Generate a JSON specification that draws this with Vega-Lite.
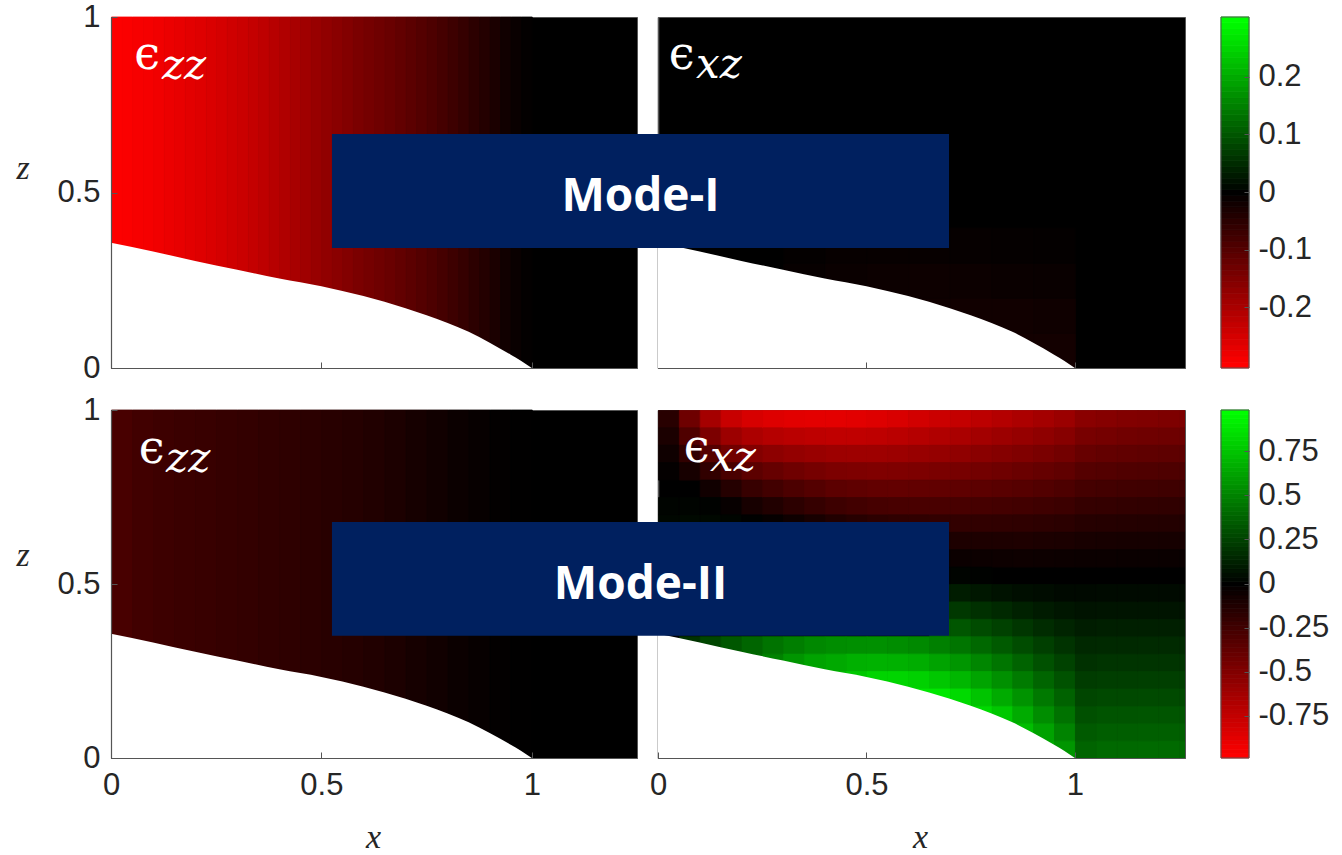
{
"$schema":"https://vega.github.io/schema/vega-lite/v6.json",
"padding":{"left":15,"top":0,"right":0,"bottom":0},
"background":"#ffffff",
"config":{
 "view":{"fill":"#000000","stroke":"#555555"},
 "axis":{"labelFont":"Liberation Sans","labelFontSize":31,"labelColor":"#262626","tickColor":"#555555","domain":true,"domainColor":"#555555","domainWidth":1.2,"grid":false,"titleFont":"Liberation Serif","titleFontStyle":"italic","titleFontWeight":"normal","titleFontSize":34,"titleColor":"#262626","labelFlush":false,"labelOverlap":false,"format":"~g"},
 "rect":{"binSpacing":0}
},
"datasets":{
 "bnd":[{"x":0,"z":0.357},{"x":0.1,"z":0.332},{"x":0.2,"z":0.305},{"x":0.3,"z":0.28},{"x":0.4,"z":0.255},{"x":0.5,"z":0.233},{"x":0.6,"z":0.205},{"x":0.7,"z":0.17},{"x":0.75,"z":0.15},{"x":0.8,"z":0.128},{"x":0.85,"z":0.103},{"x":0.9,"z":0.072},{"x":0.95,"z":0.038},{"x":0.975,"z":0.02},{"x":1,"z":0}],
 "tl":[{"x":0,"v":-0.298},{"x":0.025,"v":-0.295},{"x":0.05,"v":-0.291},{"x":0.075,"v":-0.288},{"x":0.1,"v":-0.283},{"x":0.125,"v":-0.278},{"x":0.15,"v":-0.273},{"x":0.175,"v":-0.267},{"x":0.2,"v":-0.262},{"x":0.225,"v":-0.256},{"x":0.25,"v":-0.25},{"x":0.275,"v":-0.244},{"x":0.3,"v":-0.238},{"x":0.325,"v":-0.23},{"x":0.35,"v":-0.223},{"x":0.375,"v":-0.215},{"x":0.4,"v":-0.207},{"x":0.425,"v":-0.198},{"x":0.45,"v":-0.188},{"x":0.475,"v":-0.179},{"x":0.5,"v":-0.17},{"x":0.525,"v":-0.162},{"x":0.55,"v":-0.154},{"x":0.575,"v":-0.145},{"x":0.6,"v":-0.138},{"x":0.625,"v":-0.13},{"x":0.65,"v":-0.123},{"x":0.675,"v":-0.115},{"x":0.7,"v":-0.107},{"x":0.725,"v":-0.099},{"x":0.75,"v":-0.09},{"x":0.775,"v":-0.081},{"x":0.8,"v":-0.072},{"x":0.825,"v":-0.062},{"x":0.85,"v":-0.052},{"x":0.875,"v":-0.042},{"x":0.9,"v":-0.032},{"x":0.925,"v":-0.02},{"x":0.95,"v":-0.011},{"x":0.975,"v":-0.004}],
 "bl":[{"x":0,"v":-0.277},{"x":0.05,"v":-0.25},{"x":0.1,"v":-0.234},{"x":0.15,"v":-0.223},{"x":0.2,"v":-0.215},{"x":0.25,"v":-0.204},{"x":0.3,"v":-0.196},{"x":0.35,"v":-0.184},{"x":0.4,"v":-0.177},{"x":0.45,"v":-0.165},{"x":0.5,"v":-0.154},{"x":0.55,"v":-0.142},{"x":0.6,"v":-0.127},{"x":0.65,"v":-0.108},{"x":0.7,"v":-0.085},{"x":0.75,"v":-0.065},{"x":0.8,"v":-0.042},{"x":0.85,"v":-0.027},{"x":0.9,"v":-0.012},{"x":0.95,"v":-0.004}],
 "tr":[{"x":0.3,"z":0.2,"v":-0.008},{"x":0.3,"z":0.3,"v":-0.005},{"x":0.4,"z":0.2,"v":-0.012},{"x":0.4,"z":0.3,"v":-0.008},{"x":0.5,"z":0.1,"v":-0.015},{"x":0.5,"z":0.2,"v":-0.014},{"x":0.5,"z":0.3,"v":-0.008},{"x":0.6,"z":0.1,"v":-0.018},{"x":0.6,"z":0.2,"v":-0.015},{"x":0.6,"z":0.3,"v":-0.008},{"x":0.7,"z":0,"v":-0.02},{"x":0.7,"z":0.1,"v":-0.02},{"x":0.7,"z":0.2,"v":-0.014},{"x":0.7,"z":0.3,"v":-0.007},{"x":0.8,"z":0,"v":-0.022},{"x":0.8,"z":0.1,"v":-0.02},{"x":0.8,"z":0.2,"v":-0.012},{"x":0.8,"z":0.3,"v":-0.006},{"x":0.9,"z":0,"v":-0.022},{"x":0.9,"z":0.1,"v":-0.018},{"x":0.9,"z":0.2,"v":-0.01},{"x":0.9,"z":0.3,"v":-0.005}],
 "br":[
{"x":0,"z":0.95,"v":-0.154},{"x":0,"z":0.9,"v":-0.103},{"x":0,"z":0.85,"v":-0.056},{"x":0,"z":0.8,"v":-0.015},{"x":0,"z":0.7,"v":0.015},{"x":0,"z":0.65,"v":0.026},
{"x":0.05,"z":0.95,"v":-0.423},{"x":0.05,"z":0.9,"v":-0.302},{"x":0.05,"z":0.85,"v":-0.19},{"x":0.05,"z":0.8,"v":-0.087},{"x":0.05,"z":0.7,"v":0.014},{"x":0.05,"z":0.65,"v":0.034},{"x":0.05,"z":0.3,"v":0.192},
{"x":0.1,"z":0.95,"v":-0.635},{"x":0.1,"z":0.9,"v":-0.476},{"x":0.1,"z":0.85,"v":-0.326},{"x":0.1,"z":0.8,"v":-0.188},{"x":0.1,"z":0.75,"v":-0.065},{"x":0.1,"z":0.7,"v":0.006},{"x":0.1,"z":0.65,"v":0.032},{"x":0.1,"z":0.3,"v":0.269},
{"x":0.15,"z":0.95,"v":-0.769},{"x":0.15,"z":0.9,"v":-0.598},{"x":0.15,"z":0.85,"v":-0.436},{"x":0.15,"z":0.8,"v":-0.282},{"x":0.15,"z":0.75,"v":-0.142},{"x":0.15,"z":0.7,"v":-0.025},{"x":0.15,"z":0.65,"v":0.021},{"x":0.15,"z":0.3,"v":0.333},
{"x":0.2,"z":0.95,"v":-0.827},{"x":0.2,"z":0.9,"v":-0.662},{"x":0.2,"z":0.85,"v":-0.504},{"x":0.2,"z":0.8,"v":-0.353},{"x":0.2,"z":0.75,"v":-0.212},{"x":0.2,"z":0.7,"v":-0.087},{"x":0.2,"z":0.65,"v":0.003},{"x":0.2,"z":0.3,"v":0.389},{"x":0.2,"z":0.25,"v":0.423},
{"x":0.25,"z":0.95,"v":-0.854},{"x":0.25,"z":0.9,"v":-0.694},{"x":0.25,"z":0.85,"v":-0.541},{"x":0.25,"z":0.8,"v":-0.393},{"x":0.25,"z":0.75,"v":-0.254},{"x":0.25,"z":0.7,"v":-0.128},{"x":0.25,"z":0.65,"v":-0.022},{"x":0.25,"z":0.3,"v":0.441},{"x":0.25,"z":0.25,"v":0.5},
{"x":0.3,"z":0.95,"v":-0.869},{"x":0.3,"z":0.9,"v":-0.716},{"x":0.3,"z":0.85,"v":-0.567},{"x":0.3,"z":0.8,"v":-0.426},{"x":0.3,"z":0.75,"v":-0.292},{"x":0.3,"z":0.7,"v":-0.168},{"x":0.3,"z":0.65,"v":-0.057},{"x":0.3,"z":0.3,"v":0.484},{"x":0.3,"z":0.25,"v":0.574},
{"x":0.35,"z":0.95,"v":-0.877},{"x":0.35,"z":0.9,"v":-0.731},{"x":0.35,"z":0.85,"v":-0.589},{"x":0.35,"z":0.8,"v":-0.453},{"x":0.35,"z":0.75,"v":-0.324},{"x":0.35,"z":0.7,"v":-0.203},{"x":0.35,"z":0.65,"v":-0.094},{"x":0.35,"z":0.3,"v":0.522},{"x":0.35,"z":0.25,"v":0.625},
{"x":0.4,"z":0.95,"v":-0.877},{"x":0.4,"z":0.9,"v":-0.739},{"x":0.4,"z":0.85,"v":-0.604},{"x":0.4,"z":0.8,"v":-0.475},{"x":0.4,"z":0.75,"v":-0.352},{"x":0.4,"z":0.7,"v":-0.234},{"x":0.4,"z":0.65,"v":-0.127},{"x":0.4,"z":0.3,"v":0.54},{"x":0.4,"z":0.25,"v":0.651},{"x":0.4,"z":0.2,"v":0.712},
{"x":0.45,"z":0.95,"v":-0.869},{"x":0.45,"z":0.9,"v":-0.738},{"x":0.45,"z":0.85,"v":-0.609},{"x":0.45,"z":0.8,"v":-0.485},{"x":0.45,"z":0.75,"v":-0.367},{"x":0.45,"z":0.7,"v":-0.254},{"x":0.45,"z":0.65,"v":-0.149},{"x":0.45,"z":0.3,"v":0.551},{"x":0.45,"z":0.25,"v":0.675},{"x":0.45,"z":0.2,"v":0.769},
{"x":0.5,"z":0.95,"v":-0.854},{"x":0.5,"z":0.9,"v":-0.729},{"x":0.5,"z":0.85,"v":-0.607},{"x":0.5,"z":0.8,"v":-0.49},{"x":0.5,"z":0.75,"v":-0.377},{"x":0.5,"z":0.7,"v":-0.27},{"x":0.5,"z":0.65,"v":-0.169},{"x":0.5,"z":0.3,"v":0.553},{"x":0.5,"z":0.25,"v":0.685},{"x":0.5,"z":0.2,"v":0.815},
{"x":0.55,"z":0.95,"v":-0.835},{"x":0.55,"z":0.9,"v":-0.716},{"x":0.55,"z":0.85,"v":-0.6},{"x":0.55,"z":0.8,"v":-0.488},{"x":0.55,"z":0.75,"v":-0.379},{"x":0.55,"z":0.7,"v":-0.277},{"x":0.55,"z":0.65,"v":-0.179},{"x":0.55,"z":0.3,"v":0.543},{"x":0.55,"z":0.25,"v":0.679},{"x":0.55,"z":0.2,"v":0.818},
{"x":0.6,"z":0.95,"v":-0.808},{"x":0.6,"z":0.9,"v":-0.695},{"x":0.6,"z":0.85,"v":-0.586},{"x":0.6,"z":0.8,"v":-0.479},{"x":0.6,"z":0.75,"v":-0.377},{"x":0.6,"z":0.7,"v":-0.279},{"x":0.6,"z":0.65,"v":-0.186},{"x":0.6,"z":0.3,"v":0.527},{"x":0.6,"z":0.25,"v":0.664},{"x":0.6,"z":0.2,"v":0.805},{"x":0.6,"z":0.15,"v":0.885},
{"x":0.65,"z":0.95,"v":-0.781},{"x":0.65,"z":0.9,"v":-0.675},{"x":0.65,"z":0.85,"v":-0.571},{"x":0.65,"z":0.8,"v":-0.47},{"x":0.65,"z":0.75,"v":-0.373},{"x":0.65,"z":0.7,"v":-0.28},{"x":0.65,"z":0.65,"v":-0.191},{"x":0.65,"z":0.6,"v":-0.11},{"x":0.65,"z":0.55,"v":-0.037},{"x":0.65,"z":0.5,"v":0.023},{"x":0.65,"z":0.45,"v":0.124},{"x":0.65,"z":0.4,"v":0.24},{"x":0.65,"z":0.35,"v":0.362},{"x":0.65,"z":0.3,"v":0.492},{"x":0.65,"z":0.25,"v":0.625},{"x":0.65,"z":0.2,"v":0.763},{"x":0.65,"z":0.15,"v":0.892},
{"x":0.7,"z":0.95,"v":-0.754},{"x":0.7,"z":0.9,"v":-0.652},{"x":0.7,"z":0.85,"v":-0.553},{"x":0.7,"z":0.8,"v":-0.457},{"x":0.7,"z":0.75,"v":-0.364},{"x":0.7,"z":0.7,"v":-0.275},{"x":0.7,"z":0.65,"v":-0.191},{"x":0.7,"z":0.6,"v":-0.112},{"x":0.7,"z":0.55,"v":-0.042},{"x":0.7,"z":0.5,"v":0.014},{"x":0.7,"z":0.45,"v":0.107},{"x":0.7,"z":0.4,"v":0.214},{"x":0.7,"z":0.35,"v":0.33},{"x":0.7,"z":0.3,"v":0.45},{"x":0.7,"z":0.25,"v":0.575},{"x":0.7,"z":0.2,"v":0.705},{"x":0.7,"z":0.15,"v":0.837},{"x":0.7,"z":0.1,"v":0.877},
{"x":0.75,"z":0.95,"v":-0.723},{"x":0.75,"z":0.9,"v":-0.627},{"x":0.75,"z":0.85,"v":-0.532},{"x":0.75,"z":0.8,"v":-0.442},{"x":0.75,"z":0.75,"v":-0.354},{"x":0.75,"z":0.7,"v":-0.269},{"x":0.75,"z":0.65,"v":-0.189},{"x":0.75,"z":0.6,"v":-0.113},{"x":0.75,"z":0.55,"v":-0.046},{"x":0.75,"z":0.5,"v":0.006},{"x":0.75,"z":0.45,"v":0.088},{"x":0.75,"z":0.4,"v":0.185},{"x":0.75,"z":0.35,"v":0.289},{"x":0.75,"z":0.3,"v":0.4},{"x":0.75,"z":0.25,"v":0.515},{"x":0.75,"z":0.2,"v":0.632},{"x":0.75,"z":0.15,"v":0.752},{"x":0.75,"z":0.1,"v":0.838},
{"x":0.8,"z":0.95,"v":-0.692},{"x":0.8,"z":0.9,"v":-0.601},{"x":0.8,"z":0.85,"v":-0.512},{"x":0.8,"z":0.8,"v":-0.426},{"x":0.8,"z":0.75,"v":-0.342},{"x":0.8,"z":0.7,"v":-0.261},{"x":0.8,"z":0.65,"v":-0.185},{"x":0.8,"z":0.6,"v":-0.113},{"x":0.8,"z":0.55,"v":-0.049},{"x":0.8,"z":0.45,"v":0.07},{"x":0.8,"z":0.4,"v":0.156},{"x":0.8,"z":0.35,"v":0.249},{"x":0.8,"z":0.3,"v":0.346},{"x":0.8,"z":0.25,"v":0.448},{"x":0.8,"z":0.2,"v":0.552},{"x":0.8,"z":0.15,"v":0.659},{"x":0.8,"z":0.1,"v":0.768},
{"x":0.85,"z":0.95,"v":-0.662},{"x":0.85,"z":0.9,"v":-0.576},{"x":0.85,"z":0.85,"v":-0.491},{"x":0.85,"z":0.8,"v":-0.409},{"x":0.85,"z":0.75,"v":-0.33},{"x":0.85,"z":0.7,"v":-0.254},{"x":0.85,"z":0.65,"v":-0.182},{"x":0.85,"z":0.6,"v":-0.114},{"x":0.85,"z":0.55,"v":-0.052},{"x":0.85,"z":0.45,"v":0.054},{"x":0.85,"z":0.4,"v":0.128},{"x":0.85,"z":0.35,"v":0.208},{"x":0.85,"z":0.3,"v":0.292},{"x":0.85,"z":0.25,"v":0.381},{"x":0.85,"z":0.2,"v":0.471},{"x":0.85,"z":0.15,"v":0.564},{"x":0.85,"z":0.1,"v":0.659},{"x":0.85,"z":0.05,"v":0.731},
{"x":0.9,"z":0.95,"v":-0.631},{"x":0.9,"z":0.9,"v":-0.549},{"x":0.9,"z":0.85,"v":-0.468},{"x":0.9,"z":0.8,"v":-0.39},{"x":0.9,"z":0.75,"v":-0.314},{"x":0.9,"z":0.7,"v":-0.242},{"x":0.9,"z":0.65,"v":-0.174},{"x":0.9,"z":0.6,"v":-0.109},{"x":0.9,"z":0.55,"v":-0.05},{"x":0.9,"z":0.45,"v":0.045},{"x":0.9,"z":0.4,"v":0.105},{"x":0.9,"z":0.35,"v":0.171},{"x":0.9,"z":0.3,"v":0.241},{"x":0.9,"z":0.25,"v":0.313},{"x":0.9,"z":0.2,"v":0.387},{"x":0.9,"z":0.15,"v":0.464},{"x":0.9,"z":0.1,"v":0.542},{"x":0.9,"z":0.05,"v":0.622},{"x":0.9,"z":0,"v":0.654},
{"x":0.95,"z":0.95,"v":-0.596},{"x":0.95,"z":0.9,"v":-0.519},{"x":0.95,"z":0.85,"v":-0.442},{"x":0.95,"z":0.8,"v":-0.368},{"x":0.95,"z":0.75,"v":-0.297},{"x":0.95,"z":0.7,"v":-0.229},{"x":0.95,"z":0.65,"v":-0.164},{"x":0.95,"z":0.6,"v":-0.103},{"x":0.95,"z":0.55,"v":-0.047},{"x":0.95,"z":0.45,"v":0.036},{"x":0.95,"z":0.4,"v":0.085},{"x":0.95,"z":0.35,"v":0.139},{"x":0.95,"z":0.3,"v":0.196},{"x":0.95,"z":0.25,"v":0.254},{"x":0.95,"z":0.2,"v":0.314},{"x":0.95,"z":0.15,"v":0.377},{"x":0.95,"z":0.1,"v":0.44},{"x":0.95,"z":0.05,"v":0.504},{"x":0.95,"z":0,"v":0.577},
{"x":1,"z":0.95,"v":-0.531},{"x":1,"z":0.9,"v":-0.462},{"x":1,"z":0.85,"v":-0.394},{"x":1,"z":0.8,"v":-0.328},{"x":1,"z":0.75,"v":-0.264},{"x":1,"z":0.7,"v":-0.204},{"x":1,"z":0.65,"v":-0.146},{"x":1,"z":0.6,"v":-0.091},{"x":1,"z":0.55,"v":-0.042},{"x":1,"z":0.45,"v":0.035},{"x":1,"z":0.4,"v":0.074},{"x":1,"z":0.35,"v":0.113},{"x":1,"z":0.3,"v":0.152},{"x":1,"z":0.25,"v":0.19},{"x":1,"z":0.2,"v":0.229},{"x":1,"z":0.15,"v":0.268},{"x":1,"z":0.1,"v":0.307},{"x":1,"z":0.05,"v":0.346},{"x":1,"z":0,"v":0.385},
{"x":1.05,"z":0.95,"v":-0.515},{"x":1.05,"z":0.9,"v":-0.448},{"x":1.05,"z":0.85,"v":-0.382},{"x":1.05,"z":0.8,"v":-0.318},{"x":1.05,"z":0.75,"v":-0.256},{"x":1.05,"z":0.7,"v":-0.198},{"x":1.05,"z":0.65,"v":-0.142},{"x":1.05,"z":0.6,"v":-0.089},{"x":1.05,"z":0.55,"v":-0.041},{"x":1.05,"z":0.45,"v":0.037},{"x":1.05,"z":0.4,"v":0.077},{"x":1.05,"z":0.35,"v":0.118},{"x":1.05,"z":0.3,"v":0.159},{"x":1.05,"z":0.25,"v":0.199},{"x":1.05,"z":0.2,"v":0.24},{"x":1.05,"z":0.15,"v":0.28},{"x":1.05,"z":0.1,"v":0.321},{"x":1.05,"z":0.05,"v":0.362},{"x":1.05,"z":0,"v":0.403},
{"x":1.1,"z":0.95,"v":-0.5},{"x":1.1,"z":0.9,"v":-0.435},{"x":1.1,"z":0.85,"v":-0.371},{"x":1.1,"z":0.8,"v":-0.309},{"x":1.1,"z":0.75,"v":-0.249},{"x":1.1,"z":0.7,"v":-0.192},{"x":1.1,"z":0.65,"v":-0.138},{"x":1.1,"z":0.6,"v":-0.086},{"x":1.1,"z":0.55,"v":-0.04},{"x":1.1,"z":0.45,"v":0.037},{"x":1.1,"z":0.4,"v":0.077},{"x":1.1,"z":0.35,"v":0.118},{"x":1.1,"z":0.3,"v":0.159},{"x":1.1,"z":0.25,"v":0.199},{"x":1.1,"z":0.2,"v":0.24},{"x":1.1,"z":0.15,"v":0.28},{"x":1.1,"z":0.1,"v":0.321},{"x":1.1,"z":0.05,"v":0.362},{"x":1.1,"z":0,"v":0.403},
{"x":1.15,"z":0.95,"v":-0.492},{"x":1.15,"z":0.9,"v":-0.428},{"x":1.15,"z":0.85,"v":-0.365},{"x":1.15,"z":0.8,"v":-0.304},{"x":1.15,"z":0.75,"v":-0.245},{"x":1.15,"z":0.7,"v":-0.189},{"x":1.15,"z":0.65,"v":-0.135},{"x":1.15,"z":0.6,"v":-0.085},{"x":1.15,"z":0.55,"v":-0.039},{"x":1.15,"z":0.45,"v":0.037},{"x":1.15,"z":0.4,"v":0.078},{"x":1.15,"z":0.35,"v":0.119},{"x":1.15,"z":0.3,"v":0.16},{"x":1.15,"z":0.25,"v":0.201},{"x":1.15,"z":0.2,"v":0.242},{"x":1.15,"z":0.15,"v":0.283},{"x":1.15,"z":0.1,"v":0.325},{"x":1.15,"z":0.05,"v":0.366},{"x":1.15,"z":0,"v":0.407},
{"x":1.2,"z":0.95,"v":-0.485},{"x":1.2,"z":0.9,"v":-0.422},{"x":1.2,"z":0.85,"v":-0.36},{"x":1.2,"z":0.8,"v":-0.3},{"x":1.2,"z":0.75,"v":-0.242},{"x":1.2,"z":0.7,"v":-0.186},{"x":1.2,"z":0.65,"v":-0.133},{"x":1.2,"z":0.6,"v":-0.083},{"x":1.2,"z":0.55,"v":-0.038},{"x":1.2,"z":0.45,"v":0.037},{"x":1.2,"z":0.4,"v":0.078},{"x":1.2,"z":0.35,"v":0.119},{"x":1.2,"z":0.3,"v":0.16},{"x":1.2,"z":0.25,"v":0.201},{"x":1.2,"z":0.2,"v":0.242},{"x":1.2,"z":0.15,"v":0.283},{"x":1.2,"z":0.1,"v":0.325},{"x":1.2,"z":0.05,"v":0.366},{"x":1.2,"z":0,"v":0.407},
{"x":1.25,"z":0.95,"v":-0.485},{"x":1.25,"z":0.9,"v":-0.422},{"x":1.25,"z":0.85,"v":-0.36},{"x":1.25,"z":0.8,"v":-0.3},{"x":1.25,"z":0.75,"v":-0.242},{"x":1.25,"z":0.7,"v":-0.186},{"x":1.25,"z":0.65,"v":-0.133},{"x":1.25,"z":0.6,"v":-0.083},{"x":1.25,"z":0.55,"v":-0.038},{"x":1.25,"z":0.45,"v":0.037},{"x":1.25,"z":0.4,"v":0.078},{"x":1.25,"z":0.35,"v":0.119},{"x":1.25,"z":0.3,"v":0.16},{"x":1.25,"z":0.25,"v":0.201},{"x":1.25,"z":0.2,"v":0.242},{"x":1.25,"z":0.15,"v":0.283},{"x":1.25,"z":0.1,"v":0.325},{"x":1.25,"z":0.05,"v":0.366},{"x":1.25,"z":0,"v":0.407}
 ],
 "cb1":[-0.3,-0.29,-0.28,-0.27,-0.26,-0.25,-0.24,-0.23,-0.22,-0.21,-0.2,-0.19,-0.18,-0.17,-0.16,-0.15,-0.14,-0.13,-0.12,-0.11,-0.1,-0.09,-0.08,-0.07,-0.06,-0.05,-0.04,-0.03,-0.02,-0.01,0,0.01,0.02,0.03,0.04,0.05,0.06,0.07,0.08,0.09,0.1,0.11,0.12,0.13,0.14,0.15,0.16,0.17,0.18,0.19,0.2,0.21,0.22,0.23,0.24,0.25,0.26,0.27,0.28,0.29,0.3],
 "cb2":[-0.975,-0.95,-0.925,-0.9,-0.875,-0.85,-0.825,-0.8,-0.775,-0.75,-0.725,-0.7,-0.675,-0.65,-0.625,-0.6,-0.575,-0.55,-0.525,-0.5,-0.475,-0.45,-0.425,-0.4,-0.375,-0.35,-0.325,-0.3,-0.275,-0.25,-0.225,-0.2,-0.175,-0.15,-0.125,-0.1,-0.075,-0.05,-0.025,0,0.025,0.05,0.075,0.1,0.125,0.15,0.175,0.2,0.225,0.25,0.275,0.3,0.325,0.35,0.375,0.4,0.425,0.45,0.475,0.5,0.525,0.55,0.575,0.6,0.625,0.65,0.675,0.7,0.725,0.75,0.775,0.8,0.825,0.85,0.875,0.9,0.925,0.95,0.975]
},
"columns":3,
"spacing":{"row":42,"column":21},
"bounds":"flush",
"resolve":{"scale":{"color":"independent","stroke":"independent","x":"independent","y":"independent"}},
"concat":[
 {"width":526,"height":351,"layer":[
  {"data":{"name":"tl"},"mark":{"type":"rect","strokeWidth":0.8,"opacity":1},
   "encoding":{
    "x":{"field":"x","type":"quantitative","bin":{"binned":true,"step":0.025},"scale":{"domain":[0,1.25],"nice":false,"zero":false},"axis":{"values":[0.5,1],"labels":false,"tickSize":-6,"title":null,"domain":true,"zindex":2}},
    "y":{"datum":0,"type":"quantitative","scale":{"domain":[0,1],"nice":false,"zero":false},"axis":{"values":[0,0.5,1],"tickSize":-6,"labelPadding":17,"title":"z","titleX":-95,"titleY":161,"titleAngle":0,"titleAlign":"left","titleBaseline":"alphabetic","domain":true,"zindex":2}},
    "y2":{"datum":1},
    "color":{"field":"v","type":"quantitative","scale":{"type":"linear","domain":[-0.3,0,0.3],"range":["#ff0000","#000000","#00ff00"],"interpolate":"rgb","clamp":true},"legend":null},
    "stroke":{"field":"v","type":"quantitative","scale":{"type":"linear","domain":[-0.3,0,0.3],"range":["#ff0000","#000000","#00ff00"],"interpolate":"rgb","clamp":true},"legend":null}
   }},
  {"data":{"name":"bnd"},"mark":{"type":"area","color":"#ffffff","opacity":1,"interpolate":"monotone","clip":true},"encoding":{"x":{"field":"x","type":"quantitative"},"y":{"field":"z","type":"quantitative"},"y2":{"datum":-0.012}}},
  {"data":{"values":[{}]},"mark":{"type":"text","text":"ϵ","font":"DejaVu Serif","fontSize":46,"color":"#ffffff","align":"left","baseline":"alphabetic"},"encoding":{"x":{"datum":0.055,"type":"quantitative"},"y":{"datum":0.852,"type":"quantitative"}}},
  {"data":{"values":[{}]},"mark":{"type":"text","text":"zz","font":"DejaVu Serif","fontStyle":"italic","fontSize":42,"color":"#ffffff","align":"left","baseline":"alphabetic"},"encoding":{"x":{"datum":0.121,"type":"quantitative"},"y":{"datum":0.823,"type":"quantitative"}}}
 ]},
 {"width":527,"height":351,"layer":[
  {"data":{"name":"tr"},"mark":{"type":"rect","strokeWidth":0.8,"opacity":1,"clip":true},
   "encoding":{
    "x":{"field":"x","type":"quantitative","bin":{"binned":true,"step":0.1},"scale":{"domain":[0,1.264],"nice":false,"zero":false},"axis":{"values":[0.5,1],"labels":false,"tickSize":-6,"title":null,"domain":true,"zindex":2}},
    "y":{"field":"z","type":"quantitative","bin":{"binned":true,"step":0.1},"scale":{"domain":[0,1],"nice":false,"zero":false},"axis":{"labels":false,"ticks":false,"title":null,"domain":true,"domainWidth":1.6,"zindex":0}},
    "color":{"field":"v","type":"quantitative","scale":{"type":"linear","domain":[-0.3,0,0.3],"range":["#ff0000","#000000","#00ff00"],"interpolate":"rgb","clamp":true},"legend":null},
    "stroke":{"field":"v","type":"quantitative","scale":{"type":"linear","domain":[-0.3,0,0.3],"range":["#ff0000","#000000","#00ff00"],"interpolate":"rgb","clamp":true},"legend":null}
   }},
  {"data":{"name":"bnd"},"mark":{"type":"area","color":"#ffffff","opacity":1,"interpolate":"monotone","clip":true},"encoding":{"x":{"field":"x","type":"quantitative"},"y":{"field":"z","type":"quantitative"},"y2":{"datum":-0.012}}},
  {"data":{"values":[{}]},"mark":{"type":"text","text":"ϵ","font":"DejaVu Serif","fontSize":46,"color":"#ffffff","align":"left","baseline":"alphabetic"},"encoding":{"x":{"datum":0.026,"type":"quantitative"},"y":{"datum":0.852,"type":"quantitative"}}},
  {"data":{"values":[{}]},"mark":{"type":"text","text":"xz","font":"DejaVu Serif","fontStyle":"italic","fontSize":42,"color":"#ffffff","align":"left","baseline":"alphabetic"},"encoding":{"x":{"datum":0.091,"type":"quantitative"},"y":{"datum":0.826,"type":"quantitative"}}},
  {"data":{"values":[{}]},"mark":{"type":"rect","color":"#00205f","opacity":1},"encoding":{"x":{"datum":-0.782,"type":"quantitative"},"x2":{"datum":0.698},"y":{"datum":0.342,"type":"quantitative"},"y2":{"datum":0.667}}},
  {"data":{"values":[{}]},"mark":{"type":"text","text":"Mode-I","font":"Open Sans","fontWeight":"bold","fontSize":46,"color":"#ffffff","align":"center","baseline":"alphabetic"},"encoding":{"x":{"datum":-0.042,"type":"quantitative"},"y":{"datum":0.447,"type":"quantitative"}}}
 ]},
 {"width":43,"height":351,"view":{"fill":"#ffffff","stroke":null},"layer":[
  {"data":{"name":"cb1"},"mark":{"type":"rect","strokeWidth":0.8,"opacity":1},
   "encoding":{
    "x":{"datum":15,"type":"quantitative","scale":{"domain":[0,43],"nice":false,"zero":false},"axis":null},
    "x2":{"datum":43},
    "y":{"field":"data","type":"ordinal","sort":"descending","scale":{"paddingInner":0,"paddingOuter":0},"axis":{"orient":"right","values":[-0.2,-0.1,0,0.1,0.2],"title":null,"tickSize":-5,"labelPadding":14,"domain":false,"format":"","zindex":2}},
    "color":{"field":"data","type":"quantitative","scale":{"type":"linear","domain":[-0.3,0,0.3],"range":["#ff0000","#000000","#00ff00"],"interpolate":"rgb","clamp":true},"legend":null},
    "stroke":{"field":"data","type":"quantitative","scale":{"type":"linear","domain":[-0.3,0,0.3],"range":["#ff0000","#000000","#00ff00"],"interpolate":"rgb","clamp":true},"legend":null}
   }},
  {"data":{"values":[{}]},"mark":{"type":"rect","fill":"transparent","stroke":"#555555","strokeWidth":1},"encoding":{"x":{"datum":15,"type":"quantitative"},"x2":{"datum":43}}}
 ]},
 {"width":526,"height":348,"layer":[
  {"data":{"name":"bl"},"mark":{"type":"rect","strokeWidth":0.8,"opacity":1},
   "encoding":{
    "x":{"field":"x","type":"quantitative","bin":{"binned":true,"step":0.05},"scale":{"domain":[0,1.25],"nice":false,"zero":false},"axis":{"values":[0,0.5,1],"tickSize":-6,"labelPadding":18,"title":"x","titleX":262,"titleY":89,"titleAngle":0,"titleAlign":"center","titleBaseline":"alphabetic","domain":true,"zindex":2}},
    "y":{"datum":0,"type":"quantitative","scale":{"domain":[0,1],"nice":false,"zero":false},"axis":{"values":[0,0.5,1],"tickSize":-6,"labelPadding":17,"title":"z","titleX":-95,"titleY":155,"titleAngle":0,"titleAlign":"left","titleBaseline":"alphabetic","domain":true,"zindex":2}},
    "y2":{"datum":1},
    "color":{"field":"v","type":"quantitative","scale":{"type":"linear","domain":[-0.98,0,0.98],"range":["#ff0000","#000000","#00ff00"],"interpolate":"rgb","clamp":true},"legend":null},
    "stroke":{"field":"v","type":"quantitative","scale":{"type":"linear","domain":[-0.98,0,0.98],"range":["#ff0000","#000000","#00ff00"],"interpolate":"rgb","clamp":true},"legend":null}
   }},
  {"data":{"name":"bnd"},"mark":{"type":"area","color":"#ffffff","opacity":1,"interpolate":"monotone","clip":true},"encoding":{"x":{"field":"x","type":"quantitative"},"y":{"field":"z","type":"quantitative"},"y2":{"datum":-0.012}}},
  {"data":{"values":[{}]},"mark":{"type":"text","text":"ϵ","font":"DejaVu Serif","fontSize":46,"color":"#ffffff","align":"left","baseline":"alphabetic"},"encoding":{"x":{"datum":0.066,"type":"quantitative"},"y":{"datum":0.848,"type":"quantitative"}}},
  {"data":{"values":[{}]},"mark":{"type":"text","text":"zz","font":"DejaVu Serif","fontStyle":"italic","fontSize":42,"color":"#ffffff","align":"left","baseline":"alphabetic"},"encoding":{"x":{"datum":0.131,"type":"quantitative"},"y":{"datum":0.822,"type":"quantitative"}}}
 ]},
 {"width":527,"height":348,"layer":[
  {"data":{"name":"br"},"mark":{"type":"rect","strokeWidth":0.8,"opacity":1,"clip":true},
   "encoding":{
    "x":{"field":"x","type":"quantitative","bin":{"binned":true,"step":0.05},"scale":{"domain":[0,1.264],"nice":false,"zero":false},"axis":{"values":[0,0.5,1],"tickSize":-6,"labelPadding":18,"title":"x","titleX":262,"titleY":89,"titleAngle":0,"titleAlign":"center","titleBaseline":"alphabetic","domain":true,"zindex":2}},
    "y":{"field":"z","type":"quantitative","bin":{"binned":true,"step":0.05},"scale":{"domain":[0,1],"nice":false,"zero":false},"axis":{"labels":false,"ticks":false,"title":null,"domain":true,"domainWidth":1.6,"zindex":0}},
    "color":{"field":"v","type":"quantitative","scale":{"type":"linear","domain":[-0.98,0,0.98],"range":["#ff0000","#000000","#00ff00"],"interpolate":"rgb","clamp":true},"legend":null},
    "stroke":{"field":"v","type":"quantitative","scale":{"type":"linear","domain":[-0.98,0,0.98],"range":["#ff0000","#000000","#00ff00"],"interpolate":"rgb","clamp":true},"legend":null}
   }},
  {"data":{"name":"bnd"},"mark":{"type":"area","color":"#ffffff","opacity":1,"interpolate":"monotone","clip":true},"encoding":{"x":{"field":"x","type":"quantitative"},"y":{"field":"z","type":"quantitative"},"y2":{"datum":-0.012}}},
  {"data":{"values":[{}]},"mark":{"type":"text","text":"ϵ","font":"DejaVu Serif","fontSize":46,"color":"#ffffff","align":"left","baseline":"alphabetic"},"encoding":{"x":{"datum":0.062,"type":"quantitative"},"y":{"datum":0.851,"type":"quantitative"}}},
  {"data":{"values":[{}]},"mark":{"type":"text","text":"xz","font":"DejaVu Serif","fontStyle":"italic","fontSize":42,"color":"#ffffff","align":"left","baseline":"alphabetic"},"encoding":{"x":{"datum":0.125,"type":"quantitative"},"y":{"datum":0.825,"type":"quantitative"}}},
  {"data":{"values":[{}]},"mark":{"type":"rect","color":"#00205f","opacity":1},"encoding":{"x":{"datum":-0.782,"type":"quantitative"},"x2":{"datum":0.698},"y":{"datum":0.351,"type":"quantitative"},"y2":{"datum":0.678}}},
  {"data":{"values":[{}]},"mark":{"type":"text","text":"Mode-II","font":"Open Sans","fontWeight":"bold","fontSize":46,"color":"#ffffff","align":"center","baseline":"alphabetic"},"encoding":{"x":{"datum":-0.042,"type":"quantitative"},"y":{"datum":0.457,"type":"quantitative"}}}
 ]},
 {"width":43,"height":348,"view":{"fill":"#ffffff","stroke":null},"layer":[
  {"data":{"name":"cb2"},"mark":{"type":"rect","strokeWidth":0.8,"opacity":1},
   "encoding":{
    "x":{"datum":15,"type":"quantitative","scale":{"domain":[0,43],"nice":false,"zero":false},"axis":null},
    "x2":{"datum":43},
    "y":{"field":"data","type":"ordinal","sort":"descending","scale":{"paddingInner":0,"paddingOuter":0},"axis":{"orient":"right","values":[-0.75,-0.5,-0.25,0,0.25,0.5,0.75],"title":null,"tickSize":-5,"labelPadding":14,"domain":false,"format":"","zindex":2}},
    "color":{"field":"data","type":"quantitative","scale":{"type":"linear","domain":[-0.98,0,0.98],"range":["#ff0000","#000000","#00ff00"],"interpolate":"rgb","clamp":true},"legend":null},
    "stroke":{"field":"data","type":"quantitative","scale":{"type":"linear","domain":[-0.98,0,0.98],"range":["#ff0000","#000000","#00ff00"],"interpolate":"rgb","clamp":true},"legend":null}
   }},
  {"data":{"values":[{}]},"mark":{"type":"rect","fill":"transparent","stroke":"#555555","strokeWidth":1},"encoding":{"x":{"datum":15,"type":"quantitative"},"x2":{"datum":43}}}
 ]}
]
}
